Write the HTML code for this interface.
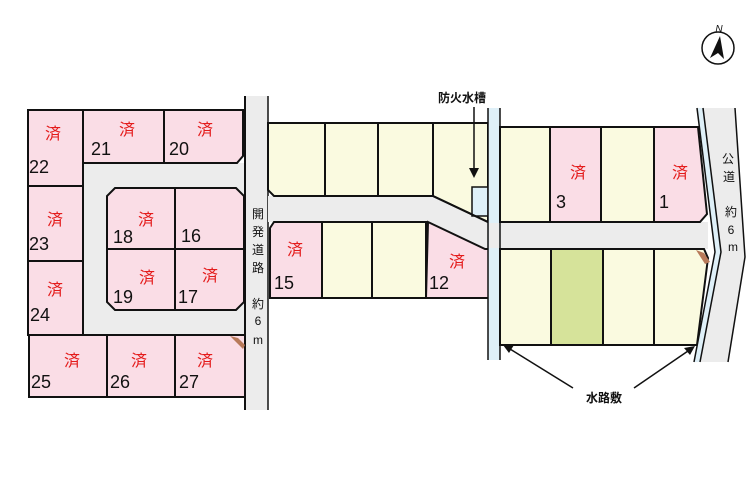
<!DOCTYPE html>
<html><head><meta charset="utf-8"><style>
html,body{margin:0;padding:0;background:#fff;}
svg{display:block;}
text{font-family:"Liberation Sans","Noto Sans CJK JP",sans-serif;}
.s{fill:#e41b1b;font-size:16px;text-anchor:middle;}
.n{fill:#111;font-size:18px;}
.p{fill:#fadde6;stroke:#111;stroke-width:2;}
.y{fill:#fafae0;stroke:#111;stroke-width:2;}
.g{fill:#d6e39a;stroke:#111;stroke-width:2;}
.v{fill:#111;font-size:12px;text-anchor:middle;}
</style></head><body>
<svg width="751" height="501" viewBox="0 0 751 501" xmlns="http://www.w3.org/2000/svg">
<rect width="751" height="501" fill="#fff"/>
<rect x="83" y="163" width="162" height="172" fill="#ececec"/>
<rect x="245" y="96" width="23" height="314" fill="#ececec"/>
<line x1="245" y1="96" x2="245" y2="410" stroke="#111" stroke-width="2"/>
<line x1="268" y1="96" x2="268" y2="410" stroke="#111" stroke-width="1.5"/>
<polygon points="268,196 433,196 488,222 708,222 708,249 485,249 428,222 268,222" fill="#ececec"/>
<rect class="p" x="28" y="110" width="55" height="76"/>
<rect class="p" x="28" y="186" width="55" height="75"/>
<rect class="p" x="28" y="261" width="55" height="74"/>
<rect class="p" x="83" y="110" width="81" height="53"/>
<polygon class="p" points="164,110 243,110 243,156 237,163 164,163"/>
<polygon class="p" points="115,188 236,188 244,196 244,302 236,310 115,310 107,302 107,196"/>
<line x1="175" y1="188" x2="175" y2="310" stroke="#111" stroke-width="2"/>
<line x1="107" y1="249" x2="244" y2="249" stroke="#111" stroke-width="2"/>
<rect class="p" x="29" y="335" width="78" height="62"/>
<rect class="p" x="107" y="335" width="68" height="62"/>
<rect class="p" x="175" y="335" width="70" height="62"/>
<polygon points="230,336 238,338 245,345 243,349 236,342" fill="#b87a5a"/>
<polygon class="y" points="268,123 325,123 325,196 274,196 268,190"/>
<rect class="y" x="325" y="123" width="53" height="73"/>
<rect class="y" x="378" y="123" width="55" height="73"/>
<polygon class="y" points="433,123 488,123 488,222 433,196"/>
<rect x="472" y="187" width="16" height="29" fill="#dff0f8" stroke="#111" stroke-width="1.5"/>
<line x1="433" y1="196" x2="488" y2="222" stroke="#111" stroke-width="2"/>
<polygon class="p" points="274,222 322,222 322,298 270,298 270,228"/>
<rect class="y" x="322" y="222" width="50" height="76"/>
<rect class="y" x="372" y="222" width="54" height="76"/>
<polygon class="p" points="428,222 485,249 490,249 490,298 426,298"/>
<rect x="488" y="108" width="12" height="252" fill="#dff0f8"/>
<line x1="488" y1="108" x2="488" y2="360" stroke="#111" stroke-width="1.5"/>
<line x1="500" y1="108" x2="500" y2="360" stroke="#111" stroke-width="1.5"/>
<rect x="489" y="223" width="10" height="25" fill="#ececec"/>
<rect class="y" x="500" y="127" width="50" height="95"/>
<rect class="p" x="550" y="127" width="51" height="95"/>
<rect class="y" x="601" y="127" width="53" height="95"/>
<polygon class="p" points="654,127 698,127 707,214 700,222 654,222"/>
<rect class="y" x="500" y="249" width="51" height="96"/>
<rect class="g" x="551" y="249" width="52" height="96"/>
<rect class="y" x="603" y="249" width="51" height="96"/>
<polygon class="y" points="654,249 704,249 708,258 697,345 654,345"/>
<polygon points="696,250 704,253 710,262 705,264" fill="#b87a5a"/>
<polygon points="697,108 735,108 745,257 728,362 694,362 715,252" fill="#ececec"/>
<polygon points="697,108 703,108 721,252 700,362 694,362 715,252" fill="#dff0f8"/>
<polyline points="697,108 715,252 694,362" fill="none" stroke="#111" stroke-width="1.5"/>
<polyline points="703,108 721,252 700,362" fill="none" stroke="#111" stroke-width="1.5"/>
<polyline points="735,108 745,257 728,362" fill="none" stroke="#111" stroke-width="1.5"/>
<text class="s" x="53" y="139">済</text>
<text class="s" x="127" y="135">済</text>
<text class="s" x="205" y="135">済</text>
<text class="s" x="55" y="225">済</text>
<text class="s" x="55" y="295">済</text>
<text class="s" x="146" y="225">済</text>
<text class="s" x="147" y="283">済</text>
<text class="s" x="210" y="281">済</text>
<text class="s" x="72" y="366">済</text>
<text class="s" x="139" y="366">済</text>
<text class="s" x="205" y="366">済</text>
<text class="s" x="295" y="255">済</text>
<text class="s" x="457" y="267">済</text>
<text class="s" x="578" y="178">済</text>
<text class="s" x="680" y="178">済</text>
<text class="n" x="29" y="173">22</text>
<text class="n" x="91" y="155">21</text>
<text class="n" x="169" y="155">20</text>
<text class="n" x="29" y="250">23</text>
<text class="n" x="30" y="321">24</text>
<text class="n" x="113" y="243">18</text>
<text class="n" x="181" y="242">16</text>
<text class="n" x="113" y="303">19</text>
<text class="n" x="178" y="303">17</text>
<text class="n" x="31" y="388">25</text>
<text class="n" x="110" y="388">26</text>
<text class="n" x="179" y="388">27</text>
<text class="n" x="274" y="289">15</text>
<text class="n" x="429" y="289">12</text>
<text class="n" x="556" y="208">3</text>
<text class="n" x="659" y="208">1</text>
<g class="v">
<text x="258" y="218">開</text><text x="258" y="236">発</text><text x="258" y="254">道</text><text x="258" y="272">路</text>
<text x="258" y="308">約</text><text x="258" y="325">6</text><text x="258" y="344">m</text>
<text x="728" y="163">公</text><text x="729" y="181">道</text>
<text x="731" y="216">約</text><text x="731" y="234">6</text><text x="733" y="251">m</text>
</g>
<text x="438" y="102" font-size="12" font-weight="bold" fill="#111">防火水槽</text>
<line x1="474" y1="107" x2="474" y2="170" stroke="#111" stroke-width="1.5"/>
<polygon points="469,168 479,168 474,178" fill="#111"/>
<text x="586" y="402" font-size="12" font-weight="bold" fill="#111">水路敷</text>
<line x1="573" y1="388" x2="510" y2="349" stroke="#111" stroke-width="1.5"/>
<polygon points="503,345 514,345 509,353" fill="#111"/>
<line x1="634" y1="388" x2="688" y2="351" stroke="#111" stroke-width="1.5"/>
<polygon points="695,346 690,355 684,348" fill="#111"/>
<circle cx="718" cy="48" r="16" fill="none" stroke="#111" stroke-width="1.5"/>
<polygon points="720,36 710,58 718,53 724,59" fill="#111"/>
<text x="719" y="32" font-size="10" font-style="italic" fill="#111" text-anchor="middle">N</text>
</svg>
</body></html>
